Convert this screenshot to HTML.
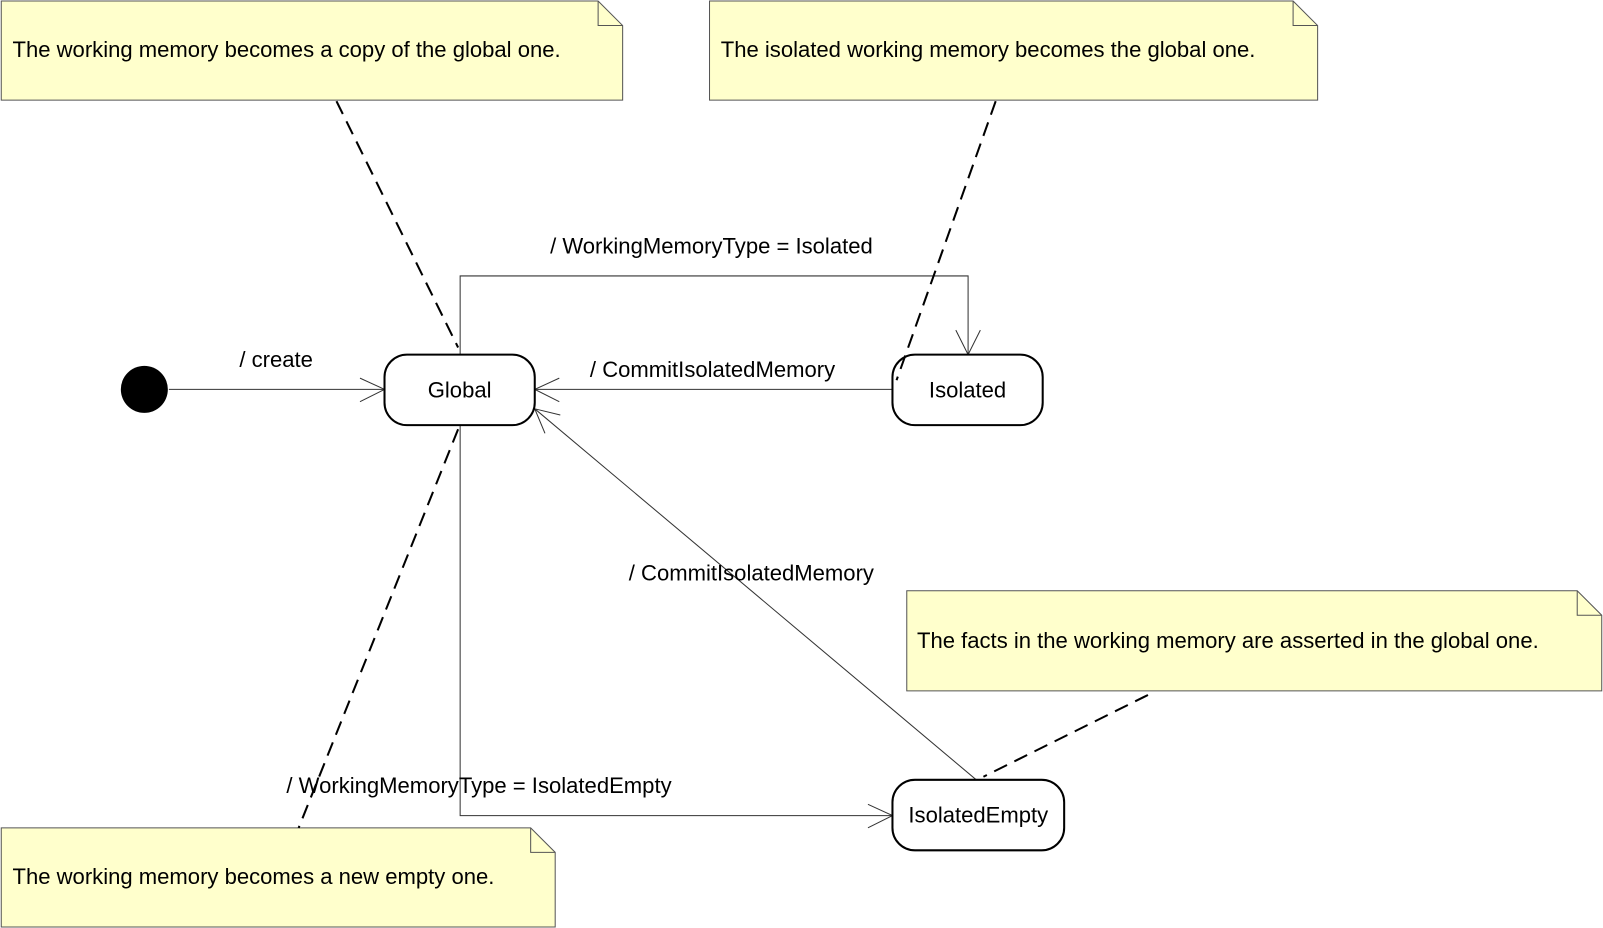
<!DOCTYPE html>
<html><head><meta charset="utf-8"><style>html,body{margin:0;padding:0;background:#fff}svg{display:block}text{font-family:"Liberation Sans",Arial,sans-serif;font-size:21.6px;fill:#000}</style></head>
<body>
<svg width="1603" height="928" viewBox="0 0 1568 908" xmlns="http://www.w3.org/2000/svg">
<g stroke="#555" stroke-width="1" fill="#ffffcc">
<path d="M1,1 H585 L609,25 V98 H1 Z"/><path d="M585,1 V25 H609" fill="none"/>
<path d="M694,1 H1265 L1289,25 V98 H694 Z"/><path d="M1265,1 V25 H1289" fill="none"/>
<path d="M887,578 H1543 L1567,602 V676 H887 Z"/><path d="M1543,578 V602 H1567" fill="none"/>
<path d="M1,810 H519 L543,834 V907 H1 Z"/><path d="M519,810 V834 H543" fill="none"/>
</g>
<text x="12" y="56">The working memory becomes a copy of the global one.</text>
<text x="705" y="56">The isolated working memory becomes the global one.</text>
<text x="897" y="634">The facts in the working memory are asserted in the global one.</text>
<text x="12" y="865">The working memory becomes a new empty one.</text>
<g stroke="#333" stroke-width="1" fill="none">
<line x1="165" y1="381" x2="376" y2="381"/><path d="M352,370 L376,381 L352,393"/>
<path d="M450,347 V270 H947 V347"/><path d="M935,323 L947,347 L959,323"/>
<line x1="873" y1="381" x2="523" y2="381"/><path d="M547,370 L523,381 L547,393"/>
<line x1="955" y1="763" x2="523" y2="400"/><path d="M548,406 L523,400 L533,424"/>
<path d="M450,416 V798 H873"/><path d="M849,787 L873,798 L849,810"/>
</g>
<circle cx="141" cy="381" r="23" fill="#000"/>
<g fill="#fff" stroke="#000" stroke-width="2">
<rect x="376" y="347" width="147" height="69" rx="22"/>
<rect x="873" y="347" width="147" height="69" rx="22"/>
<rect x="873" y="763" width="168" height="69" rx="22"/>
</g>
<g stroke="#000" stroke-width="2" stroke-dasharray="14,8" fill="none">
<line x1="329" y1="99" x2="448" y2="340"/>
<line x1="974" y1="99" x2="877" y2="372"/>
<line x1="1123" y1="680" x2="962" y2="760"/>
<line x1="448" y1="420" x2="292" y2="810"/>
</g>
<text x="449.5" y="389" text-anchor="middle">Global</text>
<text x="946.5" y="389" text-anchor="middle">Isolated</text>
<text x="957" y="805" text-anchor="middle">IsolatedEmpty</text>
<text x="234" y="359">/ create</text>
<text x="538" y="248">/ WorkingMemoryType = Isolated</text>
<text x="577" y="369">/ CommitIsolatedMemory</text>
<text x="615" y="568">/ CommitIsolatedMemory</text>
<text x="280" y="776">/ WorkingMemoryType = IsolatedEmpty</text>
</svg>
</body></html>
